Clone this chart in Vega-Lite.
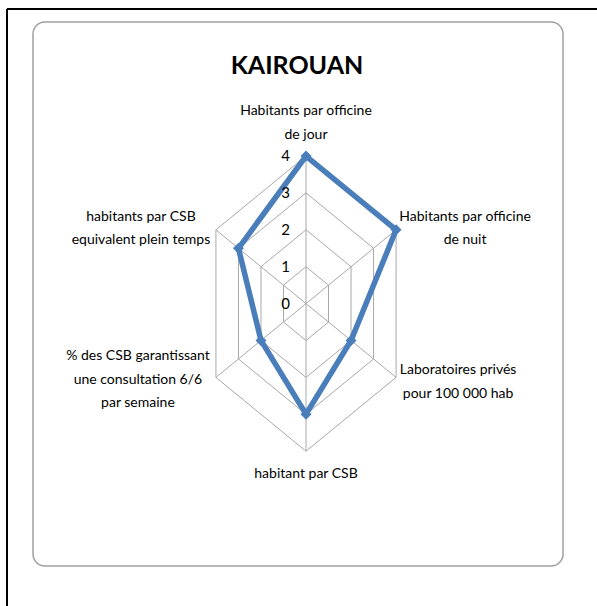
{
  "$schema": "https://vega.github.io/schema/vega-lite/v6.json",
  "width": 590,
  "height": 597,
  "padding": {"left": 7, "top": 9, "right": 0, "bottom": 0},
  "autosize": {"type": "none"},
  "background": "white",
  "config": {"view": {"stroke": null}, "font": "Lato"},
  "title": {"text": "KAIROUAN", "fontSize": 25, "fontWeight": "bold", "font": "Lato", "color": "black", "anchor": "middle", "frame": "group", "offset": -71, "dx": -5},
  "data": {"name": "frame"},
  "datasets": {
    "frame": [{"part": "frame"}],
    "radar": [
      {"k": 0, "axis": "Habitants par officine\nde jour", "value": 4},
      {"k": 1, "axis": "Habitants par officine\nde nuit", "value": 4},
      {"k": 2, "axis": "Laboratoires privés\npour 100 000 hab", "value": 2},
      {"k": 3, "axis": "habitant par CSB", "value": 3},
      {"k": 4, "axis": "% des CSB garantissant\nune consultation  6/6\npar semaine", "value": 2},
      {"k": 5, "axis": "habitants par CSB\nequivalent plein temps", "value": 3}
    ],
    "levels": [{"level": 0}, {"level": 1}, {"level": 2}, {"level": 3}, {"level": 4}],
    "grid": [
      {"level": 1, "k": [0, 1, 2, 3, 4, 5]},
      {"level": 2, "k": [0, 1, 2, 3, 4, 5]},
      {"level": 3, "k": [0, 1, 2, 3, 4, 5]},
      {"level": 4, "k": [0, 1, 2, 3, 4, 5]}
    ]
  },
  "layer": [
    {
      "mark": {"type": "rect", "cornerRadius": 12, "fill": "white", "stroke": "#a0a0a0", "strokeWidth": 1.5},
      "encoding": {
        "x": {"datum": -10.5, "type": "quantitative", "scale": {"domain": [-11.5, 11.192], "nice": false, "zero": false}, "axis": null},
        "x2": {"datum": 9.885},
        "y": {"datum": 7.631, "type": "quantitative", "scale": {"domain": [-8.195, 7.984], "nice": false, "zero": false}, "axis": null},
        "y2": {"datum": -7.111}
      }
    },
    {
      "mark": {"type": "rule", "color": "black", "strokeWidth": 2},
      "encoding": {"x": {"datum": -11.5, "type": "quantitative"}}
    },
    {
      "mark": {"type": "rule", "color": "black", "strokeWidth": 2},
      "encoding": {"y": {"datum": 7.984, "type": "quantitative"}}
    },
    {
      "data": {"name": "grid"},
      "transform": [
        {"flatten": ["k"]},
        {"calculate": "datum.level * sin(datum.k * PI / 3)", "as": "px"},
        {"calculate": "datum.level * cos(datum.k * PI / 3)", "as": "py"}
      ],
      "mark": {"type": "line", "interpolate": "linear-closed", "color": "#a8a8a8", "strokeWidth": 1},
      "encoding": {
        "x": {"field": "px", "type": "quantitative"},
        "y": {"field": "py", "type": "quantitative"},
        "detail": {"field": "level", "type": "nominal"},
        "order": {"field": "k", "type": "quantitative"}
      }
    },
    {
      "data": {"name": "radar"},
      "transform": [
        {"calculate": "4 * sin(datum.k * PI / 3)", "as": "sx"},
        {"calculate": "4 * cos(datum.k * PI / 3)", "as": "sy"},
        {"calculate": "0", "as": "cx"}
      ],
      "mark": {"type": "rule", "color": "#a8a8a8", "strokeWidth": 1},
      "encoding": {
        "x": {"field": "cx", "type": "quantitative"},
        "y": {"field": "cx", "type": "quantitative"},
        "x2": {"field": "sx"},
        "y2": {"field": "sy"}
      }
    },
    {
      "data": {"name": "radar"},
      "transform": [
        {"calculate": "datum.value * sin(datum.k * PI / 3)", "as": "px"},
        {"calculate": "datum.value * cos(datum.k * PI / 3)", "as": "py"}
      ],
      "mark": {"type": "line", "interpolate": "linear-closed", "color": "#4A7EBB", "strokeWidth": 5.5},
      "encoding": {
        "x": {"field": "px", "type": "quantitative"},
        "y": {"field": "py", "type": "quantitative"},
        "order": {"field": "k", "type": "quantitative"}
      }
    },
    {
      "data": {"name": "radar"},
      "transform": [
        {"calculate": "datum.value * sin(datum.k * PI / 3)", "as": "px"},
        {"calculate": "datum.value * cos(datum.k * PI / 3)", "as": "py"}
      ],
      "mark": {"type": "point", "shape": "diamond", "filled": true, "color": "#4A7EBB", "size": 120, "opacity": 1},
      "encoding": {
        "x": {"field": "px", "type": "quantitative"},
        "y": {"field": "py", "type": "quantitative"}
      }
    },
    {
      "data": {"name": "levels"},
      "transform": [{"calculate": "0", "as": "cx"}],
      "mark": {"type": "text", "align": "right", "baseline": "middle", "dx": -16, "fontSize": 15, "color": "black"},
      "encoding": {
        "x": {"field": "cx", "type": "quantitative"},
        "y": {"field": "level", "type": "quantitative"},
        "text": {"field": "level", "type": "nominal"}
      }
    },
    {
      "data": {"name": "radar"},
      "transform": [
        {"filter": "datum.k == 0"},
        {"calculate": "4 * sin(datum.k * PI / 3)", "as": "sx"},
        {"calculate": "4 * cos(datum.k * PI / 3)", "as": "sy"}
      ],
      "mark": {"type": "text", "align": "center", "baseline": "middle", "dy": -45, "lineBreak": "\n", "lineHeight": 23.5, "fontSize": 14, "color": "black"},
      "encoding": {
        "x": {"field": "sx", "type": "quantitative"},
        "y": {"field": "sy", "type": "quantitative"},
        "text": {"field": "axis", "type": "nominal"}
      }
    },
    {
      "data": {"name": "radar"},
      "transform": [
        {"filter": "datum.k == 3"},
        {"calculate": "4 * sin(datum.k * PI / 3)", "as": "sx"},
        {"calculate": "4 * cos(datum.k * PI / 3)", "as": "sy"}
      ],
      "mark": {"type": "text", "align": "center", "baseline": "middle", "dy": 23, "lineBreak": "\n", "lineHeight": 23.5, "fontSize": 14, "color": "black"},
      "encoding": {
        "x": {"field": "sx", "type": "quantitative"},
        "y": {"field": "sy", "type": "quantitative"},
        "text": {"field": "axis", "type": "nominal"}
      }
    },
    {
      "data": {"name": "radar"},
      "transform": [
        {"filter": "datum.k == 1"},
        {"calculate": "4 * sin(datum.k * PI / 3)", "as": "sx"},
        {"calculate": "4 * cos(datum.k * PI / 3)", "as": "sy"}
      ],
      "mark": {"type": "text", "align": "center", "baseline": "middle", "dx": 69, "dy": -13, "lineBreak": "\n", "lineHeight": 23.5, "fontSize": 14, "color": "black"},
      "encoding": {
        "x": {"field": "sx", "type": "quantitative"},
        "y": {"field": "sy", "type": "quantitative"},
        "text": {"field": "axis", "type": "nominal"}
      }
    },
    {
      "data": {"name": "radar"},
      "transform": [
        {"filter": "datum.k == 2"},
        {"calculate": "4 * sin(datum.k * PI / 3)", "as": "sx"},
        {"calculate": "4 * cos(datum.k * PI / 3)", "as": "sy"}
      ],
      "mark": {"type": "text", "align": "center", "baseline": "middle", "dx": 62, "dy": -7, "lineBreak": "\n", "lineHeight": 23.5, "fontSize": 14, "color": "black"},
      "encoding": {
        "x": {"field": "sx", "type": "quantitative"},
        "y": {"field": "sy", "type": "quantitative"},
        "text": {"field": "axis", "type": "nominal"}
      }
    },
    {
      "data": {"name": "radar"},
      "transform": [
        {"filter": "datum.k == 4"},
        {"calculate": "4 * sin(datum.k * PI / 3)", "as": "sx"},
        {"calculate": "4 * cos(datum.k * PI / 3)", "as": "sy"}
      ],
      "mark": {"type": "text", "align": "center", "baseline": "middle", "dx": -78, "dy": -21, "lineBreak": "\n", "lineHeight": 23.5, "fontSize": 14, "color": "black"},
      "encoding": {
        "x": {"field": "sx", "type": "quantitative"},
        "y": {"field": "sy", "type": "quantitative"},
        "text": {"field": "axis", "type": "nominal"}
      }
    },
    {
      "data": {"name": "radar"},
      "transform": [
        {"filter": "datum.k == 5"},
        {"calculate": "4 * sin(datum.k * PI / 3)", "as": "sx"},
        {"calculate": "4 * cos(datum.k * PI / 3)", "as": "sy"}
      ],
      "mark": {"type": "text", "align": "center", "baseline": "middle", "dx": -75, "dy": -13, "lineBreak": "\n", "lineHeight": 23.5, "fontSize": 14, "color": "black"},
      "encoding": {
        "x": {"field": "sx", "type": "quantitative"},
        "y": {"field": "sy", "type": "quantitative"},
        "text": {"field": "axis", "type": "nominal"}
      }
    }
  ]
}
